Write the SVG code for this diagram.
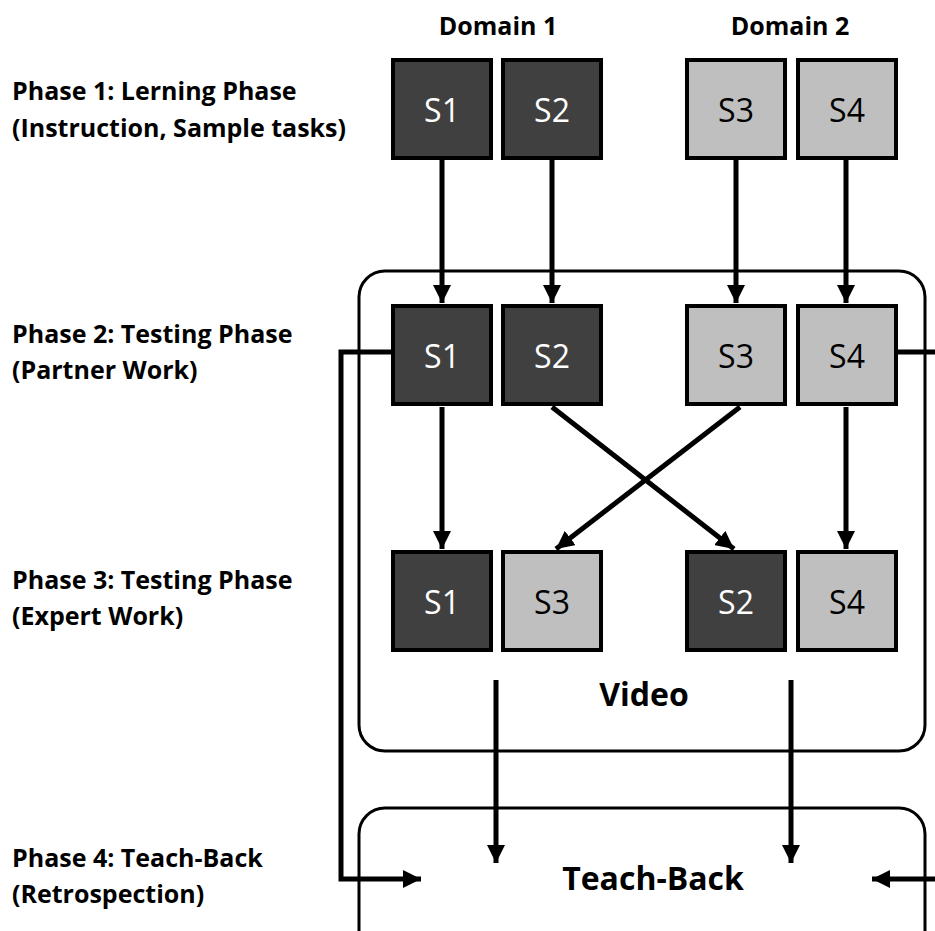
<svg xmlns="http://www.w3.org/2000/svg" width="935" height="931" viewBox="0 0 935 931">
<style>
.lbl{font-family:"Open Sans","Liberation Sans",sans-serif;font-weight:bold;font-size:25px;fill:#000}
.dark rect{fill:#404040;stroke:#000;stroke-width:4}
.light rect{fill:#bfbfbf;stroke:#000;stroke-width:4}
.dark text{fill:#fff}
.light text{fill:#000}
.node text{font-family:"Open Sans","Liberation Sans",sans-serif;font-size:32px;text-anchor:middle}
.big{font-family:"Open Sans","Liberation Sans",sans-serif;font-weight:bold;font-size:32px;text-anchor:middle}
.cont{fill:none;stroke:#000;stroke-width:3}
.con{fill:none;stroke:#000;stroke-width:5}
</style>
<defs>
<marker id="ah" viewBox="0 0 10 10" refX="10" refY="5" markerWidth="3.6" markerHeight="3.6" orient="auto" markerUnits="strokeWidth">
<path d="M0,0 L10,5 L0,10 z" fill="#000"/>
</marker>
</defs>
<rect fill="#fff" x="0" y="0" width="935" height="931"/>
<g id="labels">
<text class="lbl" x="498" y="35" text-anchor="middle">Domain 1</text>
<text class="lbl" x="790" y="35" text-anchor="middle">Domain 2</text>
<text class="lbl" x="12" y="100">Phase 1: Lerning Phase</text>
<text class="lbl" x="12" y="137">(Instruction, Sample tasks)</text>
<text class="lbl" x="12" y="343">Phase 2: Testing Phase</text>
<text class="lbl" x="12" y="379">(Partner Work)</text>
<text class="lbl" x="12" y="589">Phase 3: Testing Phase</text>
<text class="lbl" x="12" y="625">(Expert Work)</text>
<text class="lbl" x="12" y="867">Phase 4: Teach-Back</text>
<text class="lbl" x="12" y="903">(Retrospection)</text>
</g>
<g id="video">
<rect class="cont" x="359" y="271" width="566" height="480" rx="26"/>
<text class="big" x="644" y="706">Video</text>
</g>
<g id="teachback">
<rect class="cont" x="359" y="808" width="566" height="160" rx="26"/>
<text class="big" x="653" y="890">Teach-Back</text>
</g>
<g id="connectors">
<line class="con" x1="442" y1="160" x2="442" y2="303" marker-end="url(#ah)"/>
<line class="con" x1="552" y1="160" x2="552" y2="303" marker-end="url(#ah)"/>
<line class="con" x1="736" y1="160" x2="736" y2="303" marker-end="url(#ah)"/>
<line class="con" x1="846" y1="160" x2="846" y2="303" marker-end="url(#ah)"/>
<line class="con" x1="442" y1="407" x2="442" y2="549" marker-end="url(#ah)"/>
<line class="con" x1="846" y1="407" x2="846" y2="549" marker-end="url(#ah)"/>
<line class="con" x1="552" y1="407" x2="734" y2="549" marker-end="url(#ah)"/>
<line class="con" x1="740" y1="407" x2="556" y2="549" marker-end="url(#ah)"/>
<polyline class="con" points="392,352 341,352 341,879 421,879" marker-end="url(#ah)"/>
<polyline class="con" points="898,352 935,352"/>
<line class="con" x1="940" y1="879" x2="872" y2="879" marker-end="url(#ah)"/>
<line class="con" x1="496" y1="680" x2="496" y2="863" marker-end="url(#ah)"/>
<line class="con" x1="791" y1="680" x2="791" y2="863" marker-end="url(#ah)"/>
</g>
<g id="p1s1" class="node dark"><rect x="393" y="60" width="98" height="98"/><text x="442" y="122">S1</text></g>
<g id="p1s2" class="node dark"><rect x="503" y="60" width="98" height="98"/><text x="552" y="122">S2</text></g>
<g id="p1s3" class="node light"><rect x="687" y="60" width="98" height="98"/><text x="736" y="122">S3</text></g>
<g id="p1s4" class="node light"><rect x="798" y="60" width="98" height="98"/><text x="847" y="122">S4</text></g>
<g id="p2s1" class="node dark"><rect x="393" y="306" width="98" height="98"/><text x="442" y="368">S1</text></g>
<g id="p2s2" class="node dark"><rect x="503" y="306" width="98" height="98"/><text x="552" y="368">S2</text></g>
<g id="p2s3" class="node light"><rect x="687" y="306" width="98" height="98"/><text x="736" y="368">S3</text></g>
<g id="p2s4" class="node light"><rect x="798" y="306" width="98" height="98"/><text x="847" y="368">S4</text></g>
<g id="p3s1" class="node dark"><rect x="393" y="552" width="98" height="98"/><text x="442" y="614">S1</text></g>
<g id="p3s3" class="node light"><rect x="503" y="552" width="98" height="98"/><text x="552" y="614">S3</text></g>
<g id="p3s2" class="node dark"><rect x="687" y="552" width="98" height="98"/><text x="736" y="614">S2</text></g>
<g id="p3s4" class="node light"><rect x="798" y="552" width="98" height="98"/><text x="847" y="614">S4</text></g>
</svg>
